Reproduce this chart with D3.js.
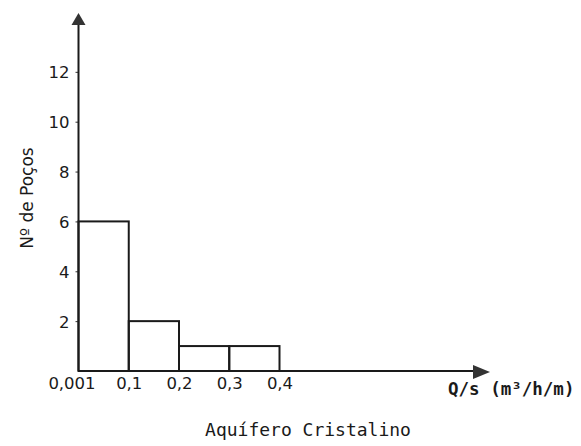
<!DOCTYPE html>
<html>
<head>
<meta charset="utf-8">
<script src="https://cdn.jsdelivr.net/npm/d3@7/dist/d3.min.js"></script>
<style>
  html, body { margin: 0; padding: 0; background: #fff; }
  svg { display: block; }
</style>
</head>
<body>
<svg id="chart" width="581" height="446"></svg>
<script>
// ---- data ----
const binEdges = ["0,001", "0,1", "0,2", "0,3", "0,4"];
const counts = [6, 2, 1, 1];
const yTicks = [2, 4, 6, 8, 10, 12];
const xTitle = "Q/s (m³/h/m)";
const yTitle = "Nº de Poços";
const caption = "Aquífero Cristalino";

const svg = d3.select("#chart");
const x0 = 78.5, y0 = 371;

const x = d3.scalePoint().domain(binEdges).range([x0, 279.5]);
const y = d3.scaleLinear().domain([0, 14.4]).range([y0, 12]);

const bins = counts.map((c, i) => ({ from: binEdges[i], to: binEdges[i + 1], n: c }));

// bars
svg.append("g").selectAll("rect").data(bins).join("rect")
  .attr("x", d => x(d.from))
  .attr("y", d => y(d.n))
  .attr("width", d => x(d.to) - x(d.from))
  .attr("height", d => y(0) - y(d.n))
  .attr("fill", "none")
  .attr("stroke", "#1a1a1a")
  .attr("stroke-width", 2);

// y axis
const yAxis = svg.append("g").attr("transform", `translate(${x0},0)`)
  .call(d3.axisLeft(y).tickValues(yTicks).tickSize(3).tickPadding(6));
yAxis.select(".domain").remove();
yAxis.selectAll("line").attr("stroke", "#333").attr("stroke-width", 1);
yAxis.selectAll("text")
  .attr("font-family", "DejaVu Sans")
  .attr("font-size", 16.5)
  .attr("fill", "#1a1a1a")
  .attr("dy", "0.36em");
svg.append("line").attr("x1", x0).attr("x2", x0).attr("y1", y0).attr("y2", 22)
  .attr("stroke", "#1a1a1a").attr("stroke-width", 2);
svg.append("path")
  .attr("d", `M${x0},${y.range()[1] + 1} L${x0 - 7},${y.range()[1] + 13} L${x0 + 7},${y.range()[1] + 13} Z`)
  .attr("fill", "#333");

// x axis
const xAxis = svg.append("g").attr("transform", `translate(0,${y0})`)
  .call(d3.axisBottom(x).tickSize(0).tickPadding(6));
xAxis.select(".domain").remove();
xAxis.selectAll("text")
  .attr("font-family", "DejaVu Sans")
  .attr("font-size", 16.5)
  .attr("fill", "#1a1a1a")
  .attr("dx", (d, i) => i === 0 ? -7 : 0);
svg.append("line").attr("x1", x0).attr("x2", 476).attr("y1", y0).attr("y2", y0)
  .attr("stroke", "#1a1a1a").attr("stroke-width", 2);
svg.append("path")
  .attr("d", `M490,${y0 + 1} L473,${y0 - 6} L473,${y0 + 8} Z`)
  .attr("fill", "#333");

// titles
svg.append("text")
  .attr("x", 448).attr("y", 395)
  .attr("font-family", "DejaVu Sans Mono")
  .attr("font-weight", "bold")
  .attr("font-size", 17.5)
  .attr("fill", "#1a1a1a")
  .text(xTitle);

svg.append("text")
  .attr("transform", "translate(33,198) rotate(-90)")
  .attr("text-anchor", "middle")
  .attr("font-family", "DejaVu Sans")
  .attr("font-size", 17)
  .attr("fill", "#1a1a1a")
  .text(yTitle);

svg.append("text")
  .attr("x", 308).attr("y", 436)
  .attr("text-anchor", "middle")
  .attr("font-family", "DejaVu Sans Mono")
  .attr("font-size", 18)
  .attr("fill", "#1a1a1a")
  .text(caption);
</script>
</body>
</html>
